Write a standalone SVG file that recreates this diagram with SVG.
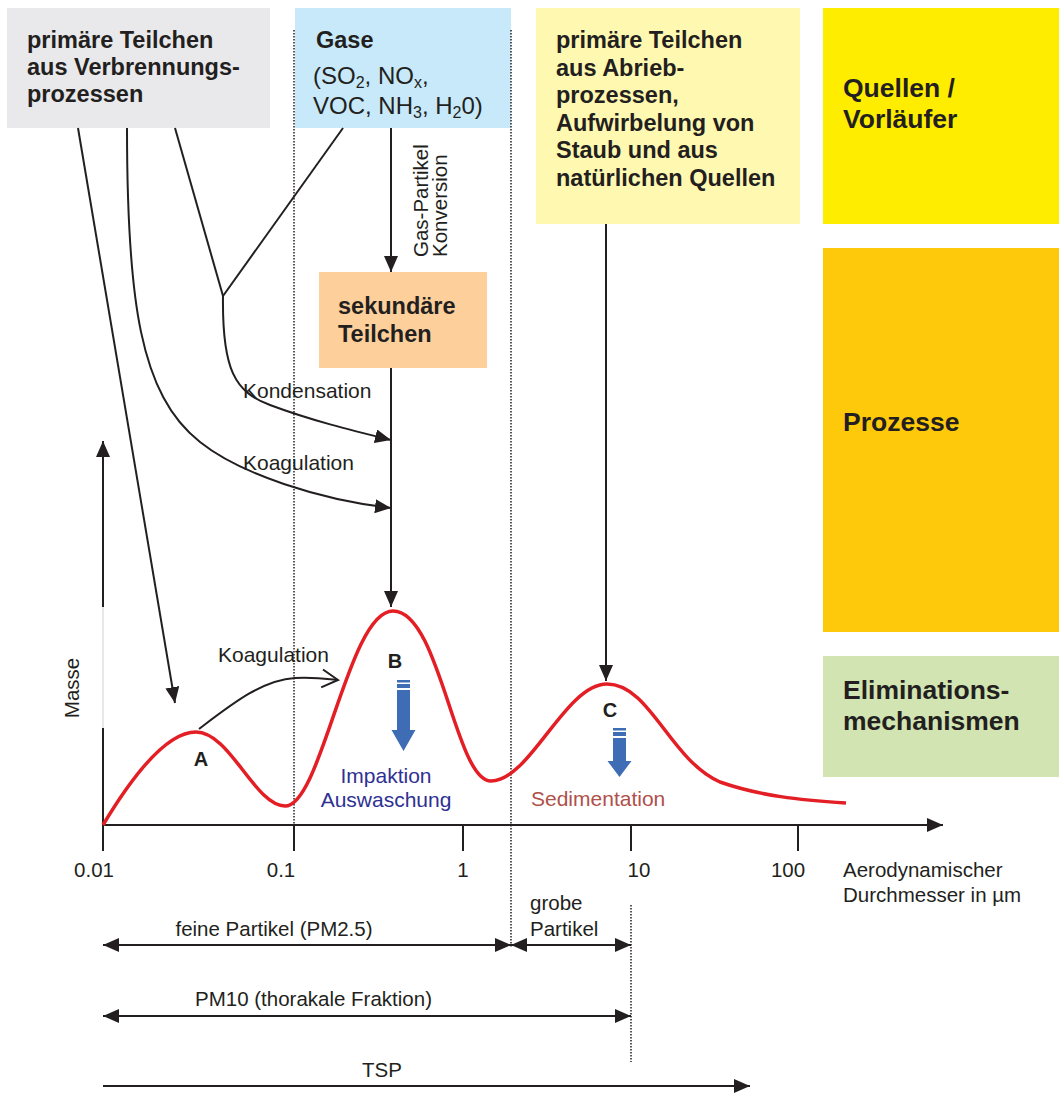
<svg xmlns="http://www.w3.org/2000/svg" width="1059" height="1096" viewBox="0 0 1059 1096">
<style>
.t{font-family:"Liberation Sans",Arial,Helvetica,sans-serif;fill:#231f20}
.b{font-weight:bold}
.hd{font-size:23.5px;font-weight:bold}
.rc{font-size:26.5px;font-weight:bold}
.lb{font-size:21px}
.ax{font-size:20.5px}
.ln{stroke:#231f20;stroke-width:2;fill:none}
.dot{stroke:#231f20;stroke-width:1.5;stroke-dasharray:1.5 1.5;fill:none}
.blue{fill:#3f6db5}
</style>
<defs>
<marker id="ah" viewBox="0 0 16 14" refX="16" refY="7" markerWidth="16" markerHeight="14" markerUnits="userSpaceOnUse" orient="auto-start-reverse"><path d="M0,0 L16,7 L0,14 Z" fill="#231f20"/></marker>
<marker id="chev" viewBox="0 0 20 22" refX="18" refY="11" markerWidth="20" markerHeight="22" markerUnits="userSpaceOnUse" orient="auto"><path d="M2,2 L18,11 L2,20" fill="none" stroke="#231f20" stroke-width="2"/></marker>
</defs>
<rect width="1059" height="1096" fill="#ffffff"/>

<!-- right column -->
<g id="quellen"><rect x="823" y="8" width="236" height="216" fill="#ffed00"/><text class="t rc" x="843" y="97">Quellen /</text><text class="t rc" x="843" y="128">Vorläufer</text></g>
<g id="prozesse"><rect x="823" y="248" width="236" height="384" fill="#ffc90b"/><text class="t rc" x="843" y="431">Prozesse</text></g>
<g id="elimination"><rect x="823" y="656" width="236" height="121" fill="#d1e4b1"/><text class="t rc" x="843" y="699">Eliminations-</text><text class="t rc" x="843" y="730">mechanismen</text></g>

<!-- source boxes -->
<g id="verbrennung"><rect x="7" y="8" width="263" height="120" fill="#e9e9eb"/>
<text class="t hd" x="27" y="48">primäre Teilchen</text><text class="t hd" x="27" y="75">aus Verbrennungs-</text><text class="t hd" x="27" y="102">prozessen</text></g>
<g id="gase"><rect x="295" y="8" width="216" height="120" fill="#c7e9f9"/>
<text class="t hd" x="316" y="48">Gase</text>
<text class="t" font-size="24" x="313" y="84">(SO<tspan font-size="16" dy="4">2</tspan><tspan dy="-4">, NO</tspan><tspan font-size="16" dy="4">x</tspan><tspan dy="-4">,</tspan></text>
<text class="t" font-size="24" x="313" y="114">VOC, NH<tspan font-size="16" dy="4">3</tspan><tspan dy="-4">, H</tspan><tspan font-size="16" dy="4">2</tspan><tspan dy="-4">0)</tspan></text></g>
<g id="abrieb"><rect x="536" y="8" width="264" height="216" fill="#fff8b0"/>
<text class="t hd" x="556" y="48">primäre Teilchen</text><text class="t hd" x="556" y="76">aus Abrieb-</text><text class="t hd" x="556" y="103">prozessen,</text><text class="t hd" x="556" y="131">Aufwirbelung von</text><text class="t hd" x="556" y="158">Staub und aus</text><text class="t hd" x="556" y="186">natürlichen Quellen</text></g>
<g id="sekundaer"><rect x="319" y="272" width="168" height="96" fill="#fdd09b"/>
<text class="t hd" x="338" y="314">sekundäre</text><text class="t hd" x="338" y="342">Teilchen</text></g>

<!-- dotted guide lines -->
<g id="guides">
<line class="dot" x1="294" y1="30" x2="294" y2="825"/>
<line class="dot" x1="511" y1="30" x2="511" y2="948"/>
<line class="dot" x1="631" y1="905" x2="631" y2="1062"/>
</g>

<!-- connectors -->
<g id="connectors">
<path class="ln" d="M78,128 L175,703" marker-end="url(#ah)"/>
<path class="ln" d="M127,128 C127,300 140,395 200,442 C240,474 320,500 391,508" marker-end="url(#ah)"/>
<path class="ln" d="M175,128 L223,296"/>
<path class="ln" d="M343,128 L223,296"/>
<path class="ln" d="M223,296 C222,370 235,392 270,405 C310,420 350,430 391,440" marker-end="url(#ah)"/>
<path class="ln" d="M391,128 L391,272" marker-end="url(#ah)"/>
<path class="ln" d="M391,368 L391,607" marker-end="url(#ah)"/>
<path class="ln" d="M606,224 L606,681" marker-end="url(#ah)"/>
<path class="ln" d="M199,729 C232,704 262,680 295,678 C315,677 328,679 338,680" marker-end="url(#chev)"/>
</g>

<!-- connector labels -->
<g id="labels">
<text class="t" font-size="20.5" transform="translate(428,257) rotate(-90)">Gas-Partikel</text>
<text class="t" font-size="20.5" transform="translate(447,257) rotate(-90)">Konversion</text>
<text class="t lb" x="243" y="398">Kondensation</text>
<text class="t lb" x="243" y="470">Koagulation</text>
<text class="t lb" x="218" y="662">Koagulation</text>
</g>

<!-- axes -->
<g id="axes">
<line class="ln" x1="103" y1="825" x2="943" y2="825" marker-end="url(#ah)"/>
<line class="ln" x1="103" y1="607" x2="103" y2="441" marker-end="url(#ah)"/>
<line x1="103" y1="607" x2="103" y2="728" stroke="#cfcfcf" stroke-width="1"/>
<line class="ln" x1="103" y1="728" x2="103" y2="851"/>
<line class="ln" x1="294" y1="825" x2="294" y2="851"/>
<line class="ln" x1="463" y1="825" x2="463" y2="851"/>
<line class="ln" x1="631" y1="825" x2="631" y2="851"/>
<line class="ln" x1="798" y1="825" x2="798" y2="851"/>
<text class="t ax" x="94" y="877" text-anchor="middle">0.01</text>
<text class="t ax" x="281" y="877" text-anchor="middle">0.1</text>
<text class="t ax" x="463" y="877" text-anchor="middle">1</text>
<text class="t ax" x="639" y="877" text-anchor="middle">10</text>
<text class="t ax" x="788" y="877" text-anchor="middle">100</text>
<text class="t ax" x="843" y="877">Aerodynamischer</text>
<text class="t ax" x="843" y="902">Durchmesser in µm</text>
<text class="t ax" transform="translate(79,688) rotate(-90)" text-anchor="middle">Masse</text>
</g>

<!-- distribution curve -->
<g id="curve">
<path d="M103,825 C130,780 165,732 196,732 C230,732 255,806 285,806 C322,806 348,611 393,611 C440,611 455,781 491,781 C530,781 565,684 607,684 C650,684 670,760 720,782 C760,796 800,800 846,803" fill="none" stroke="#e31e24" stroke-width="3.5"/>
<text class="t b" font-size="20" x="201" y="766" text-anchor="middle">A</text>
<text class="t b" font-size="20" x="395" y="668" text-anchor="middle">B</text>
<text class="t b" font-size="20" x="610" y="717" text-anchor="middle">C</text>
</g>

<!-- elimination arrows -->
<g id="elimB">
<rect class="blue" x="397" y="680" width="13" height="2.5"/>
<rect class="blue" x="397" y="684" width="13" height="4"/>
<path class="blue" d="M397,690 L410,690 L410,730 L415.5,730 L403.5,751 L391.5,730 L397,730 Z"/>
<text class="t" font-size="21" style="fill:#2e3192" x="386" y="783" text-anchor="middle">Impaktion</text>
<text class="t" font-size="21" style="fill:#2e3192" x="386" y="807" text-anchor="middle">Auswaschung</text>
</g>
<g id="elimC">
<rect class="blue" x="613" y="728" width="13" height="2.5"/>
<rect class="blue" x="613" y="732" width="13" height="4"/>
<path class="blue" d="M613,738 L626,738 L626,761 L631.5,761 L619.5,777 L607.5,761 L613,761 Z"/>
<text class="t" font-size="21" style="fill:#b0504a" x="531" y="806">Sedimentation</text>
</g>

<!-- size fractions -->
<g id="fractions">
<path class="ln" d="M103,945 L511,945" marker-start="url(#ah)" marker-end="url(#ah)"/>
<path class="ln" d="M511,945 L631,945" marker-start="url(#ah)" marker-end="url(#ah)"/>
<path class="ln" d="M103,1016 L631,1016" marker-start="url(#ah)" marker-end="url(#ah)"/>
<path class="ln" d="M103,1086 L750,1086" marker-end="url(#ah)"/>
<text class="t ax" x="274" y="936" text-anchor="middle">feine Partikel (PM2.5)</text>
<text class="t ax" x="530" y="910">grobe</text>
<text class="t ax" x="530" y="936">Partikel</text>
<text class="t ax" x="195" y="1006">PM10 (thorakale Fraktion)</text>
<text class="t ax" x="382" y="1077" text-anchor="middle">TSP</text>
</g>
</svg>
